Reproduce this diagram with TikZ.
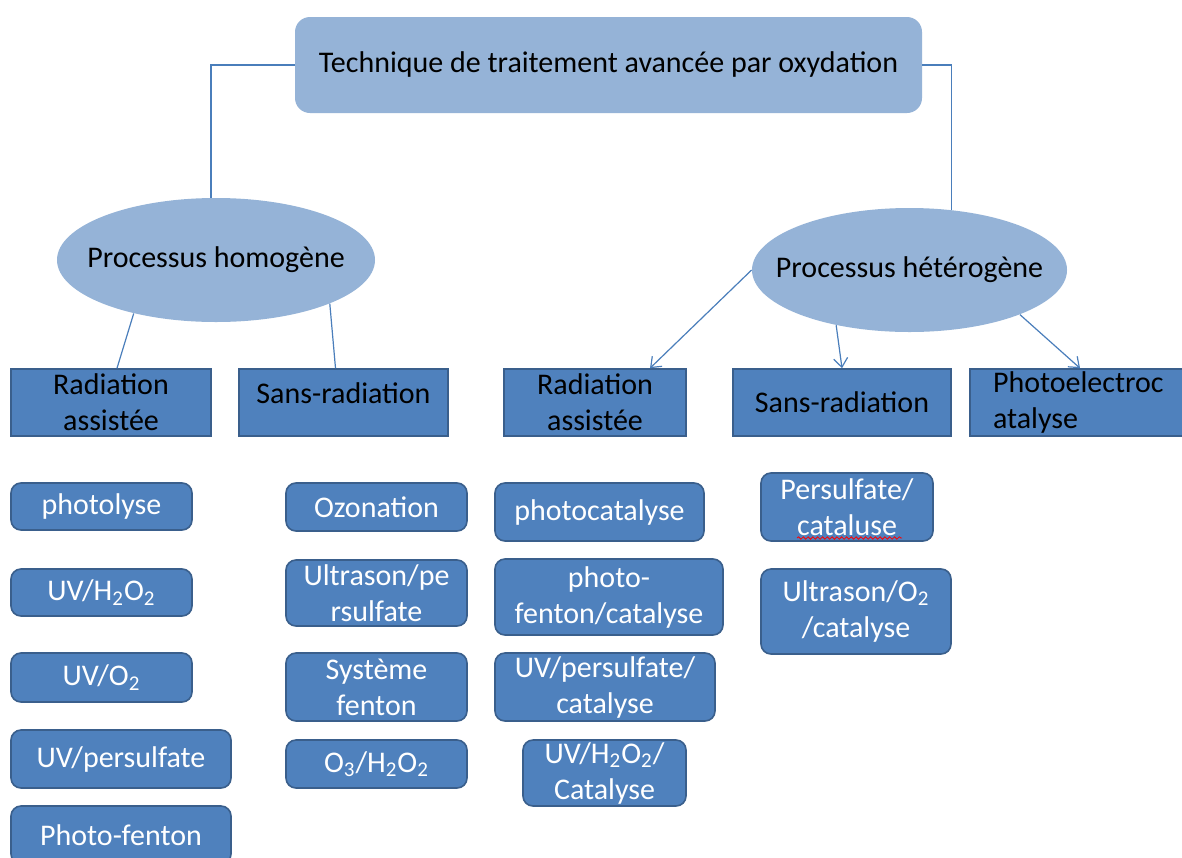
\documentclass[tikz,border=0pt]{standalone}
\usepackage{fontspec}
\setmainfont{Carlito}
\usetikzlibrary{shapes.geometric,arrows.meta,calc,decorations.pathmorphing}
\definecolor{lblue}{HTML}{95B3D7}
\definecolor{dblue}{HTML}{4F81BD}
\definecolor{dborder}{HTML}{3A5F8C}
\definecolor{lcol}{HTML}{4A7EBB}
\tikzset{
  topbox/.style={rounded corners=7.5pt, fill=lblue, inner sep=0pt, align=center, font=\fontsize{15}{18}\selectfont},
  ell/.style={ellipse, fill=lblue, inner sep=0pt, font=\fontsize{15}{18}\selectfont},
  lvtwo/.style={fill=dblue, draw=dborder, line width=0.8pt, inner sep=0pt, align=center, text=black, font=\fontsize{15}{18}\selectfont},
  lvthree/.style={rounded corners=5pt, fill=dblue, draw=dborder, line width=0.8pt, inner sep=0pt, align=center, text=white, font=\fontsize{15}{18}\selectfont},
  conn/.style={draw=lcol, line width=0.6pt},
  arr/.style={conn, -{Straight Barb[length=4.5pt,width=7pt]}}
}
\begin{document}
\begin{tikzpicture}[x=0.5pt,y=-0.5pt]
\useasboundingbox (0,0) rectangle (1182,857);
\fill[white] (0,0) rectangle (1182,857);
% top
\node[topbox, minimum width=313.5pt, minimum height=48pt] (top) at (608.5,65) {\raisebox{3pt}{Technique de traitement avancée par oxydation}};
% ellipses
\node[ell, minimum width=159pt, minimum height=62pt] (hom) at (216,260) {\makebox[0pt]{Processus homogène}};
\node[ell, minimum width=157.5pt, minimum height=62pt] (het) at (909.5,270) {\makebox[0pt]{Processus hétérogène}};
% level 2
\node[lvtwo, minimum width=100pt, minimum height=33.5pt] (r1) at (111,402.5) {Radiation\\assistée};
\node[lvtwo, minimum width=104.5pt, minimum height=33.5pt] (s1) at (343.5,402.5) {\raisebox{9pt}{Sans-radiation}};
\node[lvtwo, minimum width=91pt, minimum height=33.5pt] (r2) at (595,402.5) {Radiation\\assistée};
\node[lvtwo, minimum width=109pt, minimum height=33.5pt] (s2) at (842,402.5) {Sans-radiation};
\node[lvtwo, minimum height=33.5pt, text width=87pt, inner xsep=11.5pt, align=left] (pe) at (1080,402.5) {Photoelectroc\\atalyse};
% connectors
\draw[conn] (top.west) -| ($(hom.north)+(-5,0)$);
\draw[conn] (top.east) -| ($(het.center)+(42,-60)$);
\draw[conn] (hom.213) -- ($(r1.north)+(6,0)$);
\draw[conn] (hom.-21) -- ($(s1.north)+(-8,0)$);
\draw[arr] (het.west) -- ($(r2.north)+(55,0)$);
\draw[arr] (het.217) -- (s2.north);
\draw[arr] (het.-22) -- (pe.north);
% column 1
\node[lvthree, minimum width=90.5pt, minimum height=23.5pt] (c1a) at (101.5,506.5) {photolyse};
\node[lvthree, minimum width=90.5pt, minimum height=23.5pt] (c1b) at (101.5,592.5) {UV/H\textsubscript{2}O\textsubscript{2}};
\node[lvthree, minimum width=90.5pt, minimum height=24.5pt] (c1c) at (101.5,677.5) {UV/O\textsubscript{2}};
\node[lvthree, minimum width=110pt, minimum height=29pt] (c1d) at (121,759) {UV/persulfate};
\node[lvthree, minimum width=110pt, minimum height=29pt] (c1e) at (121,835) {Photo-fenton};
% column 2
\node[lvthree, minimum width=90.5pt, minimum height=24pt] (c2a) at (376.5,507) {Ozonation};
\node[lvthree, minimum width=90.5pt, minimum height=33pt] (c2b) at (376.5,593) {Ultrason/pe\\rsulfate};
\node[lvthree, minimum width=90.5pt, minimum height=34pt] (c2c) at (376.5,687) {Système\\fenton};
\node[lvthree, minimum width=90.5pt, minimum height=24pt] (c2d) at (376.5,764) {O\textsubscript{3}/H\textsubscript{2}O\textsubscript{2}};
% column 3
\node[lvthree, minimum width=104.5pt, minimum height=29pt] (c3a) at (599.5,512) {photocatalyse};
\node[lvthree, minimum width=114pt, minimum height=38pt] (c3b) at (609,597) {photo-\\fenton/catalyse};
\node[lvthree, minimum width=110pt, minimum height=34pt] (c3c) at (605,687) {UV/persulfate/\\catalyse};
\node[lvthree, minimum width=81.5pt, minimum height=33pt] (c3d) at (604.5,773) {UV/H\textsubscript{2}O\textsubscript{2}/\\Catalyse};
% column 4
\node[lvthree, minimum width=86pt, minimum height=34pt] (c4a) at (847,507) {Persulfate/\\cataluse};
\node[lvthree, minimum width=95pt, minimum height=42.5pt] (c4b) at (856,611.5) {Ultrason/O\textsubscript{2}\\/catalyse};
% spell-check wavy underline
\draw[red, line width=0.4pt, decorate, decoration={snake, amplitude=0.6pt, segment length=2.4pt}] (797,538) -- (902,538);
\end{tikzpicture}
\end{document}
